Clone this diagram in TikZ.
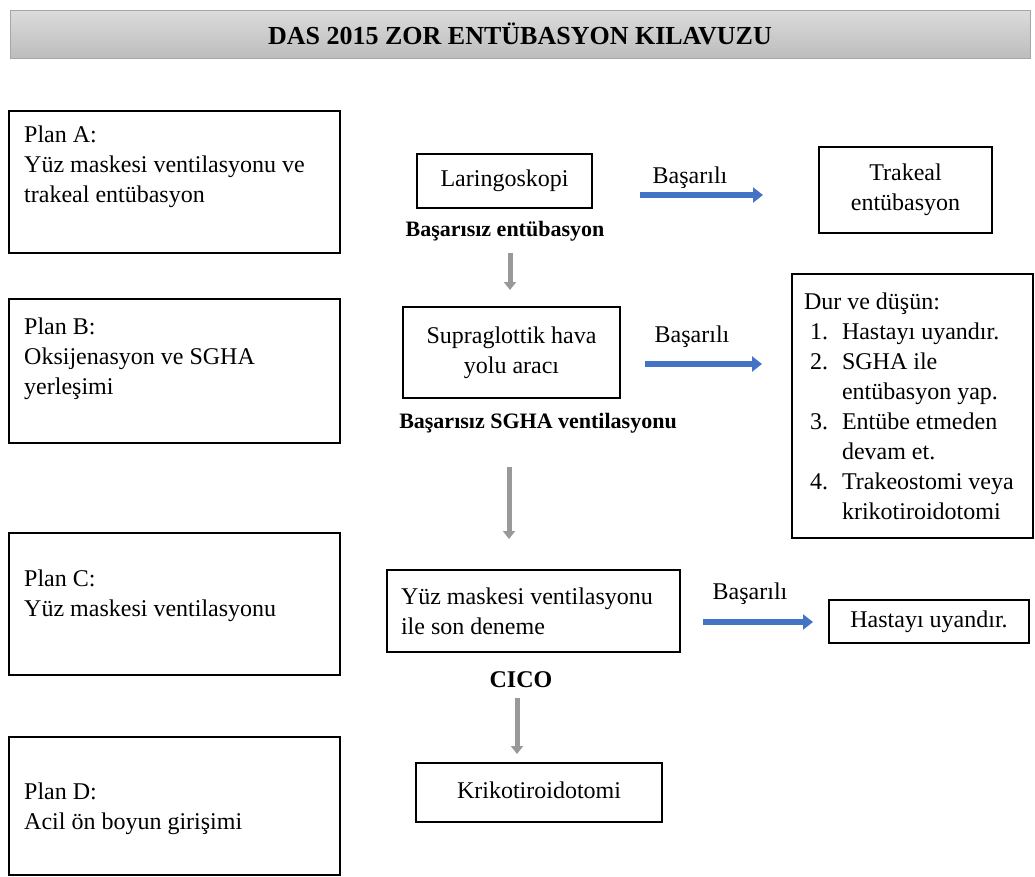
\documentclass[tikz,border=0pt]{standalone}
\usepackage{fontspec}
\setmainfont{Liberation Serif}
\usetikzlibrary{arrows.meta}
\definecolor{okmavi}{RGB}{68,114,196}
\newcommand{\madde}[1]{\hspace*{6pt}\makebox[32pt][l]{#1}}
\newcommand{\devam}{\hspace*{38pt}}
\tikzset{
  kutu/.style={draw, line width=1.4pt, font=\fontsize{24}{30}\selectfont, align=center},
  yazi/.style={font=\fontsize{24}{30}\selectfont, inner sep=0pt, align=left},
  etiket/.style={font=\fontsize{22}{26}\selectfont\bfseries, inner sep=0pt},
  mavi/.style={okmavi, line width=6pt, -{Triangle[length=10pt,width=15pt]}},
  gri/.style={gray!80, line width=5pt, -{Triangle[length=8pt,width=12pt]}}
}

\begin{document}
\begin{tikzpicture}[x=1pt,y=-1pt]
\useasboundingbox (0,0) rectangle (1035,876);
\node[draw=black!35, top color=black!14, bottom color=black!26, minimum width=1020pt, minimum height=48pt, inner sep=0pt, font=\fontsize{26}{30}\selectfont\bfseries] (baslik) at (520,34) {DAS 2015 ZOR ENTÜBASYON KILAVUZU};

\foreach \ad/\y/\h in {A/182/142, B/371/144, C/604/142, D/806/138}
  \node[kutu, minimum width=331pt, minimum height=\h pt] (plan\ad) at (174.5,\y) {};
\node[yazi, anchor=base west] (planAyazi) at (24,202) {Plan A:\\Yüz maskesi ventilasyonu ve\\trakeal entübasyon};
\node[yazi, anchor=base west] (planByazi) at (24,394) {Plan B:\\Oksijenasyon ve SGHA\\yerleşimi};
\node[yazi, anchor=base west] (planCyazi) at (24,616) {Plan C:\\Yüz maskesi ventilasyonu};
\node[yazi, anchor=base west] (planDyazi) at (24,829) {Plan D:\\Acil ön boyun girişimi};

\node[kutu, minimum width=175pt, minimum height=54pt] (laringo) at (504.5,181) {Laringoskopi};
\node[etiket] (basarisiz1) at (505,231) {Başarısız entübasyon};
\node[kutu, minimum width=217pt, minimum height=91pt] (sga) at (511.5,352.5) {Supraglottik hava\\yolu aracı};
\node[etiket] (basarisiz2) at (538,423) {Başarısız SGHA ventilasyonu};
\node[kutu, minimum width=293pt, minimum height=82pt, align=flush left, text width=265pt] (sondeneme) at (533.5,611) {Yüz maskesi ventilasyonu\\ile son deneme};
\node[etiket, font=\fontsize{24}{28}\selectfont\bfseries] (cico) at (521,680) {CICO};
\node[kutu, minimum width=246pt, minimum height=59pt] (kriko) at (539,792.5) {\raisebox{5pt}{Krikotiroidotomi}};

\node[kutu, minimum width=173pt, minimum height=86pt] (trakeal) at (905.5,190) {Trakeal\\entübasyon};
\node[kutu, minimum width=241pt, minimum height=264pt, align=flush left, text width=217pt] (dur) at (912.5,406) {Dur ve düşün:\\
\madde{1.}Hastayı uyandır.\\
\madde{2.}SGHA ile\\
\devam entübasyon yap.\\
\madde{3.}Entübe etmeden\\
\devam devam et.\\
\madde{4.}Trakeostomi veya\\
\devam krikotiroidotomi};
\node[kutu, minimum width=200pt, minimum height=43pt] (uyandir) at (929,621.5) {Hastayı uyandır.};

\node[yazi] (basarili1) at (690,178) {Başarılı};
\node[yazi] (basarili2) at (692,337) {Başarılı};
\node[yazi] (basarili3) at (750,594) {Başarılı};

\coordinate (m1a) at (640,195);
\coordinate (m1b) at (763,195);
\coordinate (m2a) at (645,364);
\coordinate (m2b) at (762,364);
\coordinate (m3a) at (703,622);
\coordinate (m3b) at (813,622);
\draw[mavi] (m1a) -- (m1b);
\draw[mavi] (m2a) -- (m2b);
\draw[mavi] (m3a) -- (m3b);

\coordinate (g1a) at (510,253);
\coordinate (g1b) at (510,290);
\coordinate (g2a) at (509,467);
\coordinate (g2b) at (509,539);
\coordinate (g3a) at (517,698);
\coordinate (g3b) at (517,754);
\draw[gri] (g1a) -- (g1b);
\draw[gri] (g2a) -- (g2b);
\draw[gri] (g3a) -- (g3b);
\end{tikzpicture}
\end{document}
